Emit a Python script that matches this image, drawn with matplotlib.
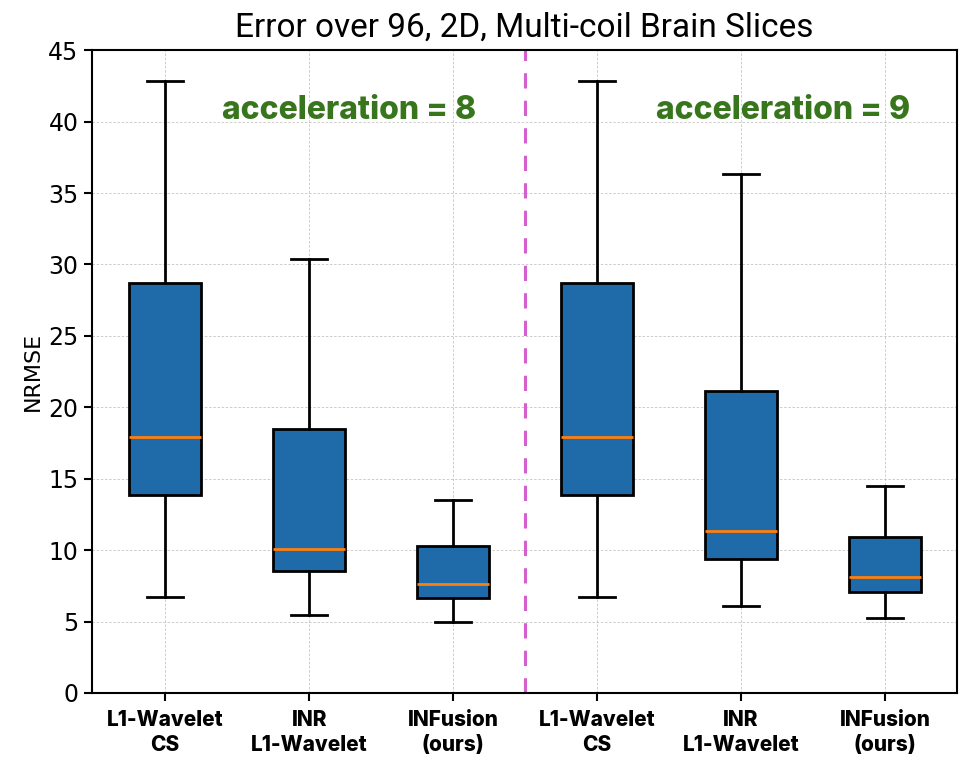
import matplotlib.pyplot as plt
import numpy as np

# Statistiques (NRMSE)
labels = ['L1-Wavelet\nCS', 'INR\nL1-Wavelet', 'INFusion\n(ours)',
          'L1-Wavelet\nCS', 'INR\nL1-Wavelet', 'INFusion\n(ours)']
whislo = [6.72, 5.46, 4.99, 6.72, 6.10, 5.25]
q1 = [13.88, 8.54, 6.62, 13.88, 9.38, 7.07]
med = [17.94, 10.06, 7.65, 17.94, 11.36, 8.14]
q3 = [28.70, 18.45, 10.26, 28.70, 21.16, 10.94]
whishi = [42.85, 30.40, 13.48, 42.85, 36.34, 14.50]
accelerations = [8, 9]

stats = [dict(whislo=a, q1=b, med=c, q3=d, whishi=e, fliers=[])
         for a, b, c, d, e in zip(whislo, q1, med, q3, whishi)]

fig = plt.figure(figsize=(9.76, 7.73), dpi=100)
ax = fig.add_axes([0.094, 0.1035, 0.8865, 0.8315])

ax.bxp(stats, positions=np.arange(1, 7), widths=0.5, patch_artist=True,
       showfliers=False,
       boxprops=dict(facecolor='#1f6aa8', edgecolor='black', linewidth=2),
       medianprops=dict(color='#ff7f0e', linewidth=2),
       whiskerprops=dict(color='black', linewidth=2),
       capprops=dict(color='black', linewidth=2))

ax.grid(True, linestyle=(0, (3, 2)), color='gray', alpha=0.45, linewidth=0.6)
ax.set_axisbelow(True)

# Séparation entre les deux accélérations
ax.axvline(3.5, color='#d65fcf', linestyle='--', linewidth=2.2, dashes=(5, 4))

for xc, acc in zip([2.28, 5.29], accelerations):
    ax.text(xc, 40.8, f'acceleration = {acc}', ha='center', va='center',
            fontsize=23, fontweight='heavy', color='#38761d', family='Inter')

ax.set_xlim(0.49, 6.5)
ax.set_ylim(0, 45)
ax.set_xticks(np.arange(1, 7))
ax.set_xticklabels(labels, fontsize=15, fontweight='heavy', family='Inter',
                   linespacing=1.35)
ax.tick_params(axis='y', labelsize=17, width=1.5, length=6)
ax.tick_params(axis='x', width=1.5, length=6, pad=6)
ax.set_ylabel('NRMSE', fontsize=16)
ax.set_title('Error over 96, 2D, Multi-coil Brain Slices', fontsize=24,
             family='Roboto', pad=10)
for s in ax.spines.values():
    s.set_linewidth(1.5)

plt.savefig('out.png', dpi=100)
